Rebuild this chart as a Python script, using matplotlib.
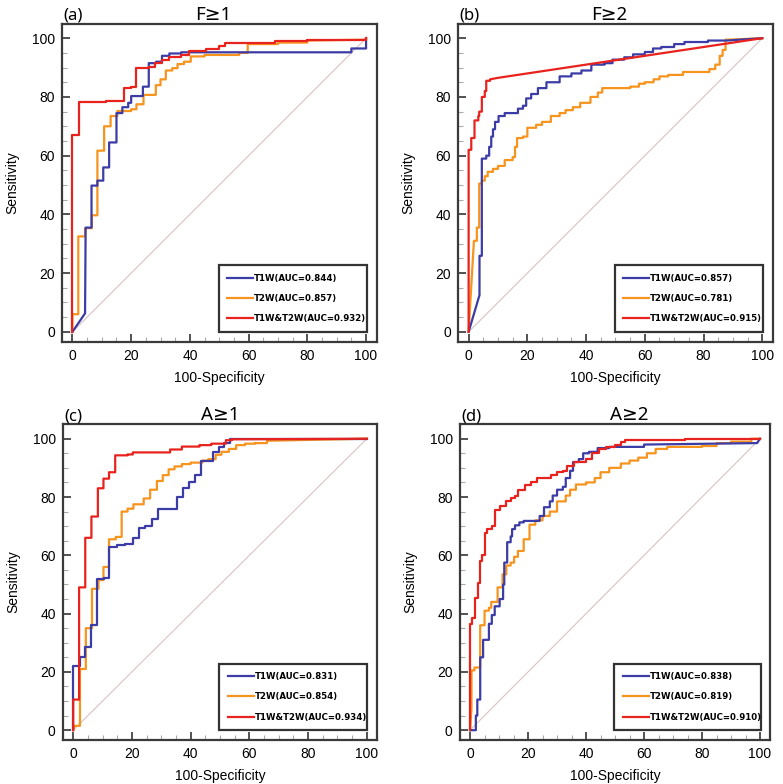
import matplotlib
matplotlib.use("Agg")
import matplotlib.pyplot as plt
from matplotlib.ticker import MultipleLocator

plt.rcParams['font.family'] = ['Liberation Sans', 'DejaVu Sans']

# ---- data: ROC curve vertices (100-Specificity, Sensitivity) ----
a_t1w = [(0,0),(4.3,6.3),(4.5,35.5),(6.5,35.5),(6.5,49.8),(8.5,49.8),(8.5,51.5),(10.5,51.5),(10.5,56),(12.5,56),
         (12.5,64.5),(15,64.5),(15,74.5),(17,74.5),(17,76.5),(19,76.5),(19,78),(20,78),(20,80.3),(24,80.3),
         (24,83.5),(26,83.5),(26,91.5),(28.5,91.5),(28.5,92),(30.5,92),(30.5,94),(33,94),(33,94.8),(37,94.8),
         (37,95.2),(95,95.2),(95,96.5),(100,96.5),(100,100)]
a_t2w = [(0,0),(0,6),(2,6),(2,32.5),(4.3,32.5),(4.3,35.3),(6.6,35.3),(6.6,39.7),(8.5,39.7),(8.5,61.7),
         (10.8,61.7),(10.8,70),(13,70),(13,73.5),(15.3,73.5),(15.3,75.2),(20,75.2),(20,75.8),(21.8,75.8),(21.8,77.5),
         (24.2,77.5),(24.2,80.7),(28.4,80.7),(28.4,84),(30,84),(30,86),(31.8,86),(31.8,89),(34,89),(34,89.8),
         (35.8,89.8),(35.8,91.2),(38,91.2),(38,92),(40.3,92),(40.3,93.8),(45,93.8),(45,94.3),(56.8,94.3),(56.8,95),
         (59.7,95),(59.7,98),(70,98),(70,98.5),(80,98.5),(80,99.2),(100,99.5),(100,100)]
a_comb = [(0,0),(0,67.2),(2.3,67.2),(2.3,78.3),(11.4,78.3),(11.4,78.6),(17.6,78.6),(17.6,83),(20,83),(20,83.5),
          (21.8,83.5),(21.8,89.7),(26,89.7),(26,90.2),(28,90.2),(28,91.5),(30.5,91.5),(30.5,92.5),(33,92.5),(33,93.5),
          (36.9,93.5),(36.9,94.3),(39.8,94.3),(39.8,95.5),(45.5,95.5),(45.5,96.2),(50,96.2),(50,97.3),(52,97.3),
          (52,98.2),(60,98.2),(60,98.5),(69,98.5),(69,99),(80,99),(80,99.5),(100,99.5),(100,100)]

b_t1w = [(0,0),(3.7,12.5),(3.7,25.9),(4.5,25.9),(4.5,59),(6,59),(6,60),(7,60),(7,63),(7.7,63),(7.7,66.5),
         (8.3,66.5),(8.3,69),(9,69),(9,71.5),(10.2,71.5),(10.2,73.5),(12.3,73.5),(12.3,74.5),(16.8,74.5),(16.8,76),
         (18.5,76),(18.5,77),(19.6,77),(19.6,79.5),(21.3,79.5),(21.3,81),(23.6,81),(23.6,83),(26.5,83),(26.5,85),
         (31,85),(31,87),(35,87),(35,88),(38.4,88),(38.4,89),(41.8,89),(41.8,91),(46.3,91),(46.3,91.5),(49,91.5),
         (49,92.7),(53,92.7),(53,93.5),(56,93.5),(56,94.5),(60,94.5),(60,95.3),(62.8,95.3),(62.8,96.5),(65.6,96.5),
         (65.6,97),(70,97),(70,98),(73.5,98),(73.5,98.7),(81.5,98.7),(81.5,99.2),(88,99.2),(100,100)]
b_t2w = [(0,0),(1.8,31),(2.8,31),(2.8,35.5),(3.6,35.5),(3.6,50.5),(4.5,50.5),(4.5,51.5),(5.5,51.5),(5.5,53),
         (6.5,53),(6.5,54.5),(8.3,54.5),(8.3,55.5),(10,55.5),(10,56.5),(12.3,56.5),(12.3,58.5),(15,58.5),(15,59.5),
         (15.8,59.5),(15.8,63),(16.5,63),(16.5,66),(18.5,66),(18.5,66.5),(20,66.5),(20,69.5),(23,69.5),(23,70.5),
         (25,70.5),(25,71.5),(28,71.5),(28,73.5),(31,73.5),(31,74.5),(33,74.5),(33,75.5),(35.5,75.5),(35.5,76.5),
         (38,76.5),(38,78),(41.5,78),(41.5,80),(44,80),(44,81.5),(45.5,81.5),(45.5,83),(55,83),(55,83.5),(58,83.5),
         (58,84.5),(60,84.5),(60,85),(63,85),(63,86),(65,86),(65,87),(68,87),(68,87.5),(73,87.5),(73,88.5),(82,88.5),
         (82,89.5),(84,89.5),(84,91),(85.5,91),(85.5,94),(86.5,94),(86.5,96),(87.5,96),(87.5,99.5),(88.5,99.5),
         (100,100)]
b_comb = [(0,0),(0,62),(0.9,62),(0.9,66),(2,66),(2,72),(3.3,72),(3.3,73.5),(3.6,73.5),(3.6,75),(4.5,75),(4.5,80),
          (5.5,80),(5.5,82),(6,82),(6,85.5),(7.3,85.5),(7.3,86),(10,86.5),(100,100)]

c_t1w = [(0,0),(0,22),(2.3,22),(2.3,25),(4.1,25),(4.1,28.7),(6.1,28.7),(6.1,36),(8.2,36),(8.2,52),(10.5,52),
         (10.5,52.2),(12.3,52.2),(12.3,63),(15,63),(15,63.5),(17.5,63.5),(17.5,64),(20.3,64),(20.3,66),(22.4,66),
         (22.4,69.5),(24.5,69.5),(24.5,70),(26.7,70),(26.7,72.5),(29,72.5),(29,75.8),(35.5,75.8),(35.5,80),(37.4,80),
         (37.4,83),(39.6,83),(39.6,85),(41.5,85),(41.5,87.5),(43.5,87.5),(43.5,92.5),(47.5,92.5),(47.5,95.5),
         (49.6,95.5),(49.6,97),(51.5,97),(51.5,98.5),(53.5,98.5),(53.5,100),(100,100)]
c_t2w = [(0,0),(0.5,1.5),(2.3,1.5),(2.3,21),(4.3,21),(4.3,35),(6.4,35),(6.4,48.5),(8.6,48.5),(8.6,51.5),
         (10.3,51.5),(10.3,56),(12.2,56),(12.2,65.5),(14.5,65.5),(14.5,66.3),(16.5,66.3),(16.5,75),(18.5,75),(18.5,76),
         (20.5,76),(20.5,77.5),(24,77.5),(24,79.5),(26.2,79.5),(26.2,82.5),(28.5,82.5),(28.5,85.5),(30.5,85.5),
         (30.5,87.5),(32.5,87.5),(32.5,89.5),(34.5,89.5),(34.5,90.5),(37,90.5),(37,91.3),(40,91.3),(40,91.8),
         (44,91.8),(44,92.5),(46,92.5),(46,93),(48.5,93),(48.5,94.5),(50.5,94.5),(50.5,95.5),(53,95.5),(53,96.5),
         (55.5,96.5),(55.5,97.8),(58.5,97.8),(58.5,98.3),(62,98.3),(62,98.5),(66,98.5),(66,99.3),(100,100)]
c_comb = [(0,0),(0,10.5),(2,10.5),(2,49),(4.1,49),(4.1,66),(6.2,66),(6.2,73.3),(8.4,73.3),(8.4,83),(10.3,83),
          (10.3,86.3),(12.2,86.3),(12.2,88.5),(14.3,88.5),(14.3,94.3),(18.5,94.3),(18.5,94.6),(20.3,94.6),(20.3,95.3),
          (33,95.3),(33,96.3),(37,96.3),(37,97.3),(43,97.3),(43,97.8),(47,97.8),(47,98.3),(52,98.3),(52,99.5),
          (54,99.5),(54,99.8),(100,100)]

d_t1w = [(0,0),(2,0),(2,5),(2.5,5),(2.5,10.5),(3.5,10.5),(3.5,25),(4.5,25),(4.5,31),(6.5,31),(6.5,36.5),
         (7.5,36.5),(7.5,39.5),(8.5,39.5),(8.5,42.5),(10.2,42.5),(10.2,45),(11.4,45),(11.4,50),(11.8,50),(11.8,57.5),
         (12.8,57.5),(12.8,64.5),(14,64.5),(14,66.5),(14.5,66.5),(14.5,69),(15.5,69),(15.5,70.3),(17,70.3),(17,71.3),
         (18.5,71.3),(18.5,71.8),(24,71.8),(24,73.5),(25.5,73.5),(25.5,76.5),(27.5,76.5),(27.5,78.5),(28.5,78.5),
         (28.5,80.5),(30,80.5),(30,82.5),(32,82.5),(32,83.5),(33,83.5),(33,86.5),(34.5,86.5),(34.5,89),(35.5,89),
         (35.5,92),(37.5,92),(37.5,93),(39,93),(39,95),(41,95),(41,95.5),(44,95.5),(44,96.8),(48,96.8),(48,97.2),
         (60,97.2),(60,98),(99,98.5),(100,100)]
d_t2w = [(0,0),(0.5,7.5),(0.5,20.5),(1.5,20.5),(1.5,21.5),(3.5,21.5),(3.5,36),(5,36),(5,41),(6.5,41),(6.5,42),
         (7.3,42),(7.3,44),(9.5,44),(9.5,49),(11.2,49),(11.2,53.5),(12.5,53.5),(12.5,56.5),(14,56.5),(14,57.5),
         (15.2,57.5),(15.2,59.5),(16.5,59.5),(16.5,61.5),(18.5,61.5),(18.5,65.5),(20.5,65.5),(20.5,70.5),(22.5,70.5),
         (22.5,72),(25,72),(25,73.5),(27.5,73.5),(27.5,75),(30,75),(30,78.5),(33,78.5),(33,80.5),(34.5,80.5),
         (34.5,82.5),(36.5,82.5),(36.5,84.3),(40,84.3),(40,85),(43,85),(43,86.5),(45,86.5),(45,88.5),(48,88.5),
         (48,90),(52,90),(52,91.5),(55,91.5),(55,92.5),(58,92.5),(58,93.5),(61,93.5),(61,95),(64,95),(64,96.5),
         (68,96.5),(68,97.2),(80,97.2),(80,97.5),(85,97.5),(85,98.5),(90,98.5),(90,99),(97,99),(97,100),(100,100)]
d_comb = [(0,0),(0,36.5),(0.8,36.5),(0.8,38.5),(1.8,38.5),(1.8,45.5),(2.6,45.5),(2.6,50.5),(3.3,50.5),(3.3,58),
          (4.2,58),(4.2,60),(5,60),(5,67.5),(5.8,67.5),(5.8,69),(7.5,69),(7.5,70),(8.5,70),(8.5,75.5),(10.3,75.5),
          (10.3,77),(12.5,77),(12.5,78.5),(14,78.5),(14,79.5),(15.5,79.5),(15.5,80.5),(16.5,80.5),(16.5,82.5),
          (19,82.5),(19,84),(21,84),(21,85),(23,85),(23,86.5),(28,86.5),(28,87.5),(30,87.5),(30,88.5),(32,88.5),
          (32,89),(33.5,89),(33.5,90.5),(36,90.5),(36,92),(40,92),(40,93),(42,93),(42,95),(44.5,95),(44.5,96.5),
          (47,96.5),(47,97),(50,97),(50,98),(52,98),(52,99),(53.5,99),(53.5,99.5),(74,99.5),(74,100),(100,100)]

panel_tags = ['(a)', '(b)', '(c)', '(d)']
panel_titles = ['F≥1', 'F≥2', 'A≥1', 'A≥2']
auc_t1w = ['0.844', '0.857', '0.831', '0.838']
auc_t2w = ['0.857', '0.781', '0.854', '0.819']
auc_comb = ['0.932', '0.915', '0.934', '0.910']
curves = [(a_t1w, a_t2w, a_comb), (b_t1w, b_t2w, b_comb),
          (c_t1w, c_t2w, c_comb), (d_t1w, d_t2w, d_comb)]

COL_T1W = '#3c3ca6'
COL_T2W = '#f7941e'
COL_COMB = '#e8231d'

fig = plt.figure(figsize=(7.83, 7.84), dpi=100)
positions = [
    [0.079, 0.564, 0.402, 0.406],
    [0.585, 0.564, 0.402, 0.406],
    [0.080, 0.056, 0.402, 0.403],
    [0.587, 0.056, 0.397, 0.403],
]
title_x = [0.48, 0.48, 0.50, 0.545]

for i, pos in enumerate(positions):
    ax = fig.add_axes(pos)
    t1, t2, cb = curves[i]
    ax.plot([0, 100], [0, 100], color='#d9c2c4', lw=0.8, zorder=1)
    ax.plot([p[0] for p in t1], [p[1] for p in t1], color=COL_T1W, lw=1.6,
            label=f'T1W(AUC={auc_t1w[i]})', zorder=3)
    ax.plot([p[0] for p in t2], [p[1] for p in t2], color=COL_T2W, lw=1.6,
            label=f'T2W(AUC={auc_t2w[i]})', zorder=2)
    ax.plot([p[0] for p in cb], [p[1] for p in cb], color=COL_COMB, lw=1.6,
            label=f'T1W&T2W(AUC={auc_comb[i]})', zorder=4)

    ax.set_xlim(-3.6, 103.6)
    ax.set_ylim(-3.4, 105)
    ax.xaxis.set_major_locator(MultipleLocator(20))
    ax.yaxis.set_major_locator(MultipleLocator(20))
    ax.xaxis.set_minor_locator(MultipleLocator(5))
    ax.yaxis.set_minor_locator(MultipleLocator(5))
    ax.tick_params(which='major', direction='in', length=6, width=1.3, color='#444444',
                   labelsize=10, pad=5)
    ax.tick_params(which='minor', direction='in', length=3.5, width=0.8, color='#aaaaaa')
    for s in ax.spines.values():
        s.set_linewidth(1.6)
        s.set_color('#3a3a3a')

    ax.set_xlabel('100-Specificity', fontsize=10, labelpad=6)
    ax.set_ylabel('Sensitivity', fontsize=10, labelpad=9)
    ax.text(title_x[i], 1.012, panel_titles[i], transform=ax.transAxes, ha='center', va='baseline',
            fontsize=13.5, family=['Noto Sans', 'DejaVu Sans'])
    ax.text(0.005, 1.012, panel_tags[i], transform=ax.transAxes, ha='left', va='baseline',
            fontsize=12, family=['Noto Sans', 'DejaVu Sans'])

    leg = ax.legend(loc='lower left', bbox_to_anchor=(0.498, 0.031, 0.47, 0.227), mode='expand',
                    fancybox=False, framealpha=1, edgecolor='#333333',
                    prop={'family': 'DejaVu Sans', 'weight': 'bold', 'size': 6.2},
                    handlelength=3.0, handletextpad=0.1, labelspacing=1.3, borderpad=1.0,
                    borderaxespad=0)
    leg.get_frame().set_linewidth(1.6)

fig.savefig('out.png', dpi=100)
